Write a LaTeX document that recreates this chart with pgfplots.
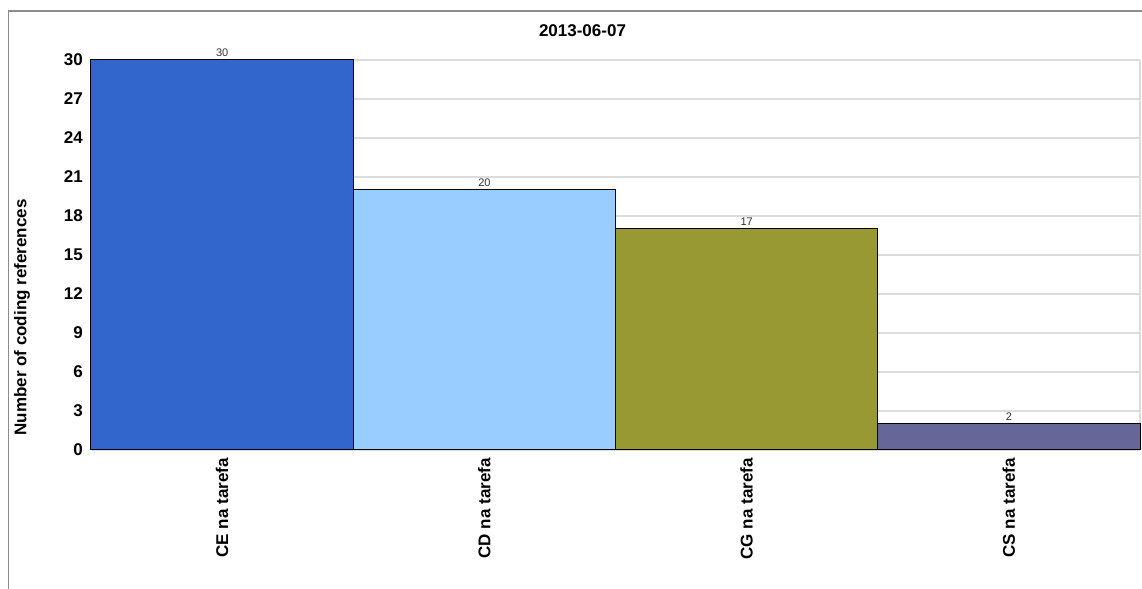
\documentclass[border=0pt]{standalone}
\usepackage{fontspec}
\setmainfont{Liberation Sans}
\usepackage{pgfplots}
\pgfplotsset{compat=1.18}
\definecolor{cCE}{HTML}{3366CC}
\definecolor{cCD}{HTML}{99CCFF}
\definecolor{cCG}{HTML}{999933}
\definecolor{cCS}{HTML}{666699}
\definecolor{gridc}{HTML}{DCDCDC}
\begin{document}
\begin{tikzpicture}[x=1bp,y=1bp]
\useasboundingbox (-91,-139) rectangle (1051,450);
\begin{axis}[
 at={(0,0)}, anchor=south west,
 scale only axis, width=1049bp, height=390bp,
 xmin=-0.5, xmax=3.5, ymin=0, ymax=30,
 clip=false,
 ytick={0,3,...,30},
 xtick={0,1,2,3},
 xticklabels={CE na tarefa, CD na tarefa, CG na tarefa, CS na tarefa},
 major tick length=0pt,
 ymajorgrids, grid style={draw=gridc, line width=1.2bp},
 axis line style={draw=none},
 /pgf/number format/assume math mode=true,
 ticklabel style={font=\fontsize{17bp}{20bp}\selectfont\bfseries},
 yticklabel style={anchor=east, inner sep=0pt, xshift=-8bp},
 xticklabel style={yshift=-8bp, rotate=90, anchor=east, inner sep=0pt},
 ybar, bar width=1, bar shift=0pt,
 nodes near coords,
 nodes near coords style={font=\fontsize{11bp}{13bp}\selectfont, text=black!80, anchor=base, inner sep=0pt, yshift=3bp},
]
\draw[gridc, line width=1.2bp] (rel axis cs:1,0) -- (rel axis cs:1,1);
\addplot[draw=black, line width=1bp, fill=cCE] coordinates {(0,30)};
\addplot[draw=black, line width=1bp, fill=cCD] coordinates {(1,20)};
\addplot[draw=black, line width=1bp, fill=cCG] coordinates {(2,17)};
\addplot[draw=black, line width=1bp, fill=cCS] coordinates {(3,2)};
\end{axis}
\draw[color=black!45, line width=1.5bp] (-82.5,-139) -- (-82.5,439) -- (1051,439);
\node[anchor=base, inner sep=0pt, font=\fontsize{17bp}{20bp}\selectfont\bfseries] at (491.5,413) {2013-06-07};
\node[rotate=90, inner sep=0pt, font=\fontsize{17bp}{20bp}\selectfont\bfseries] at (-69,132.5) {Number of coding references};
\end{tikzpicture}
\end{document}
